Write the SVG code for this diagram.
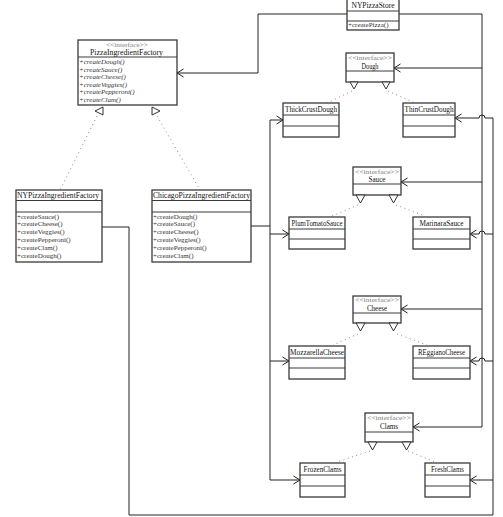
<svg xmlns="http://www.w3.org/2000/svg" width="503" height="517" viewBox="0 0 503 517">
<style>
.box{fill:#fff;stroke:#3a3a3a;stroke-width:1.3}
.dv{stroke:#3a3a3a;stroke-width:1;fill:none}
.t{font-family:"Liberation Serif",serif;font-size:7.5px;fill:#111}
.n{text-anchor:middle}
.st{fill:#808080;font-size:7px}
.m{font-size:7px;fill:#333}
.i{font-style:italic}
.c{fill:none;stroke:#222;stroke-width:1}
.dot{fill:none;stroke:#8a8a8a;stroke-width:1;stroke-dasharray:1 3.5}
.tri{fill:#fff;stroke:#333;stroke-width:1}
</style>
<defs>
<marker id="open" markerUnits="userSpaceOnUse" markerWidth="10" markerHeight="10" refX="7" refY="5" orient="auto" viewBox="0 0 10 10" overflow="visible">
<path d="M0.5,1 L7,5 L0.5,9" fill="none" stroke="#222" stroke-width="1"/>
</marker>
</defs>
<rect width="503" height="517" fill="#fff"/>

<g id="connectors">
<path class="c" d="M347,14 H258 V73 H177" marker-end="url(#open)"/>
<path class="c" d="M399,14 H482 V427 H413" marker-end="url(#open)"/>
<path class="c" d="M482,68 H394" marker-end="url(#open)"/>
<path class="c" d="M482,182 H401" marker-end="url(#open)"/>
<path class="c" d="M482,309 H401" marker-end="url(#open)"/>
<path class="c" d="M102,227 H129 V515 H493 V118 H485 A3,3 0 0 0 479,118 H455" marker-end="url(#open)"/>
<path class="c" d="M493,234 H485 A3,3 0 0 0 479,234 H470" marker-end="url(#open)"/>
<path class="c" d="M493,361 H485 A3,3 0 0 0 479,361 H470" marker-end="url(#open)"/>
<path class="c" d="M493,480 H470" marker-end="url(#open)"/>
<path class="c" d="M251,226 H270"/>
<path class="c" d="M270,120 V480 H300" marker-end="url(#open)"/>
<path class="c" d="M270,120 H283" marker-end="url(#open)"/>
<path class="c" d="M270,234 H289" marker-end="url(#open)"/>
<path class="c" d="M270,361 H289" marker-end="url(#open)"/>
<path class="dot" d="M97,116 L60,190"/>
<path class="dot" d="M157,116 L200,190"/>
<path class="dot" d="M352,91 L327,103"/>
<path class="dot" d="M388,91 L415,103"/>
<path class="dot" d="M358,205 L332,216"/>
<path class="dot" d="M396,205 L425,216"/>
<path class="dot" d="M358,334 L333,345"/>
<path class="dot" d="M397,334 L427,345"/>
<path class="dot" d="M370,451 L337,462"/>
<path class="dot" d="M408,451 L435,462"/>
</g>

<g id="NYPizzaStore">
<rect class="box" x="347" y="-1" width="52" height="31"/>
<path class="dv" d="M347,11 H399 M347,21 H399"/>
<text class="t n" x="373" y="7.5" textLength="43" lengthAdjust="spacingAndGlyphs">NYPizzaStore</text>
<text class="t m" x="348" y="27">+createPizza()</text>
</g>

<g id="PizzaIngredientFactory">
<rect class="box" x="78" y="40" width="99" height="65"/>
<path class="dv" d="M78,57 H177"/>
<text class="t n st" x="127" y="47" textLength="42" lengthAdjust="spacingAndGlyphs">&lt;&lt;interface&gt;&gt;</text>
<text class="t n" x="126.5" y="55" textLength="73" lengthAdjust="spacingAndGlyphs">PizzaIngredientFactory</text>
<text class="t m i" x="79" y="64">+createDough()</text>
<text class="t m i" x="79" y="71.5">+createSauce()</text>
<text class="t m i" x="79" y="79">+createCheese()</text>
<text class="t m i" x="79" y="86.5">+createVeggies()</text>
<text class="t m i" x="79" y="94">+createPepperoni()</text>
<text class="t m i" x="79" y="101.5">+createClam()</text>
<polygon class="tri" points="95,111 103,107 103,115"/>
<polygon class="tri" points="152,107 152,115 160,111"/>
</g>

<g id="NYPizzaIngredientFactory">
<rect class="box" x="16" y="190" width="86" height="72"/>
<path class="dv" d="M16,200.5 H102 M16,212 H102"/>
<text class="t n" x="58" y="197.5" textLength="82" lengthAdjust="spacingAndGlyphs">NYPizzaIngredientFactory</text>
<text class="t m" x="17" y="218.5">+createSauce()</text>
<text class="t m" x="17" y="226.3">+createCheese()</text>
<text class="t m" x="17" y="234.1">+createVeggies()</text>
<text class="t m" x="17" y="241.9">+createPepperoni()</text>
<text class="t m" x="17" y="249.7">+createClam()</text>
<text class="t m" x="17" y="258">+createDough()</text>
</g>

<g id="ChicagoPizzaIngredientFactory">
<rect class="box" x="152" y="190" width="99" height="72"/>
<path class="dv" d="M152,200.5 H251 M152,212 H251"/>
<text class="t n" x="201.5" y="197.5" textLength="97" lengthAdjust="spacingAndGlyphs">ChicagoPizzaIngredientFactory</text>
<text class="t m" x="153" y="218.5">+createDough()</text>
<text class="t m" x="153" y="226.3">+createSauce()</text>
<text class="t m" x="153" y="234.1">+createCheese()</text>
<text class="t m" x="153" y="241.9">+createVeggies()</text>
<text class="t m" x="153" y="249.7">+createPepperoni()</text>
<text class="t m" x="153" y="258">+createClam()</text>
</g>

<g id="Dough">
<rect class="box" x="346" y="53" width="48" height="29"/>
<path class="dv" d="M346,71 H394"/>
<text class="t n st" x="370" y="60" textLength="44" lengthAdjust="spacingAndGlyphs">&lt;&lt;interface&gt;&gt;</text>
<text class="t n" x="370" y="69" textLength="17" lengthAdjust="spacingAndGlyphs">Dough</text>
<polygon class="tri" points="350,82 358,82 354,89"/>
<polygon class="tri" points="382,82 390,82 386,89"/>
</g>

<g id="ThickCrustDough">
<rect class="box" x="283" y="103" width="56" height="34"/>
<path class="dv" d="M283,115 H339 M283,126 H339"/>
<text class="t n" x="311" y="111.5" textLength="52" lengthAdjust="spacingAndGlyphs">ThickCrustDough</text>
</g>

<g id="ThinCrustDough">
<rect class="box" x="403" y="103" width="52" height="34"/>
<path class="dv" d="M403,115 H455 M403,126 H455"/>
<text class="t n" x="429" y="111.5" textLength="49" lengthAdjust="spacingAndGlyphs">ThinCrustDough</text>
</g>

<g id="Sauce">
<rect class="box" x="353" y="167" width="48" height="28"/>
<path class="dv" d="M353,184 H401"/>
<text class="t n st" x="377" y="173.5" textLength="44" lengthAdjust="spacingAndGlyphs">&lt;&lt;interface&gt;&gt;</text>
<text class="t n" x="377" y="181.5" textLength="17" lengthAdjust="spacingAndGlyphs">Sauce</text>
<polygon class="tri" points="356,195 365,195 360.5,203"/>
<polygon class="tri" points="389,195 398,195 393.5,203"/>
</g>

<g id="PlumTomatoSauce">
<rect class="box" x="289" y="217" width="56" height="32"/>
<path class="dv" d="M289,229 H345 M289,239 H345"/>
<text class="t n" x="317" y="225.5" textLength="51" lengthAdjust="spacingAndGlyphs">PlumTomatoSauce</text>
</g>

<g id="MarinaraSauce">
<rect class="box" x="413" y="217" width="57" height="32"/>
<path class="dv" d="M413,229 H470 M413,239 H470"/>
<text class="t n" x="441.5" y="225.5" textLength="44" lengthAdjust="spacingAndGlyphs">MarinaraSauce</text>
</g>

<g id="Cheese">
<rect class="box" x="353" y="296" width="48" height="27"/>
<path class="dv" d="M353,313 H401"/>
<text class="t n st" x="377" y="302" textLength="44" lengthAdjust="spacingAndGlyphs">&lt;&lt;interface&gt;&gt;</text>
<text class="t n" x="377" y="310.5" textLength="20" lengthAdjust="spacingAndGlyphs">Cheese</text>
<polygon class="tri" points="356,323 365,323 360.5,331"/>
<polygon class="tri" points="389,323 398,323 393.5,331"/>
</g>

<g id="MozzarellaCheese">
<rect class="box" x="289" y="346" width="56" height="33"/>
<path class="dv" d="M289,358 H345 M289,368 H345"/>
<text class="t n" x="317" y="354.5" textLength="54" lengthAdjust="spacingAndGlyphs">MozzarellaCheese</text>
</g>

<g id="REggianoCheese">
<rect class="box" x="413" y="346" width="57" height="33"/>
<path class="dv" d="M413,358 H470 M413,368 H470"/>
<text class="t n" x="441.5" y="354.5" textLength="47" lengthAdjust="spacingAndGlyphs">REggianoCheese</text>
</g>

<g id="Clams">
<rect class="box" x="365" y="413" width="48" height="29"/>
<path class="dv" d="M365,432 H413"/>
<text class="t n st" x="389" y="419.5" textLength="44" lengthAdjust="spacingAndGlyphs">&lt;&lt;interface&gt;&gt;</text>
<text class="t n" x="389" y="428.5" textLength="18" lengthAdjust="spacingAndGlyphs">Clams</text>
<polygon class="tri" points="368,442 377,442 372.5,450"/>
<polygon class="tri" points="402,442 411,442 406.5,450"/>
</g>

<g id="FrozenClams">
<rect class="box" x="300" y="463" width="45" height="34"/>
<path class="dv" d="M300,475 H345 M300,486 H345"/>
<text class="t n" x="322.5" y="471.5" textLength="38" lengthAdjust="spacingAndGlyphs">FrozenClams</text>
</g>

<g id="FreshClams">
<rect class="box" x="425" y="463" width="45" height="34"/>
<path class="dv" d="M425,475 H470 M425,486 H470"/>
<text class="t n" x="447.5" y="471.5" textLength="33" lengthAdjust="spacingAndGlyphs">FreshClams</text>
</g>
</svg>
